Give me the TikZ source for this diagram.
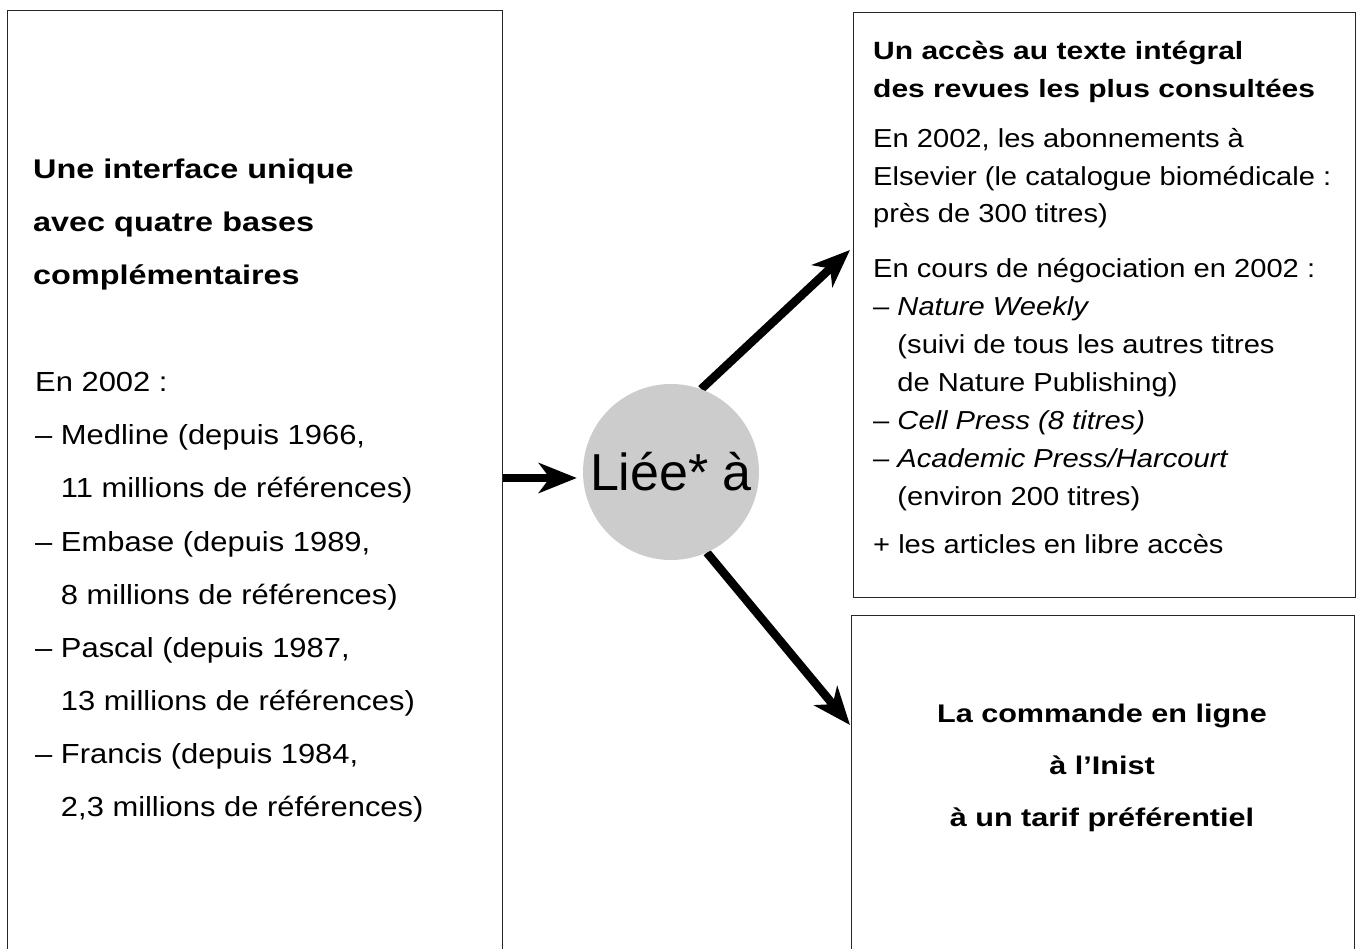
\documentclass[tikz,border=0pt]{standalone}
\usepackage{fontspec}
\newfontfamily\bodyfont{Liberation Sans}[FakeStretch=1.12]
\newfontfamily\headfont{Liberation Sans}[FakeStretch=1.2]
\newfontfamily\circfont{Liberation Sans}
\usetikzlibrary{arrows.meta}
\usetikzlibrary{calc}
\usetikzlibrary{backgrounds}
\definecolor{circgray}{RGB}{204,204,204}
\newcommand\dashind{\hphantom{– }}

\begin{document}
\begin{tikzpicture}[x=1pt, y=-1pt,
  boxst/.style={draw=black!85, line width=1.2pt, inner sep=0pt, anchor=north west},
  arr/.style={line width=8.5pt, -{Stealth[length=38pt, width=30pt, inset=11pt]}},
  lhead/.style={anchor=base west, inner sep=0pt, font=\headfont\bfseries\fontsize{27}{30}\selectfont},
  lbody/.style={anchor=base west, inner sep=0pt, font=\bodyfont\fontsize{27.6}{30}\selectfont},
  rhead/.style={anchor=base west, inner sep=0pt, font=\headfont\bfseries\fontsize{25}{28}\selectfont},
  rbody/.style={anchor=base west, inner sep=0pt, font=\bodyfont\fontsize{26}{28}\selectfont},
  chead/.style={anchor=base, inner sep=0pt, font=\headfont\bfseries\fontsize{25.5}{28}\selectfont}]
  \useasboundingbox (0,0) rectangle (1361,949);
  \clip (0,0) rectangle (1361,949);

  % the three frames
  \node[boxst, minimum width=495pt, minimum height=1000pt] (lbox) at (7,10) {};
  \node[boxst, minimum width=502pt, minimum height=585pt] (tbox) at (853,12) {};
  \node[boxst, minimum width=503pt, minimum height=400pt] (bbox) at (851,615) {};

  % left frame
  \foreach \txt [count=\i from 0] in {Une interface unique, avec quatre bases, complémentaires}
    \node[lhead] (lh\i) at (33, 179+53*\i) {\txt};
  \foreach \txt [count=\i from 0] in {{En 2002 :}, {– Medline (depuis 1966,},
      {\dashind 11 millions de références)}, {– Embase (depuis 1989,},
      {\dashind 8 millions de références)}, {– Pascal (depuis 1987,},
      {\dashind 13 millions de références)}, {– Francis (depuis 1984,},
      {\dashind 2,3 millions de références)}}
    \node[lbody] (lb\i) at (35, 392+53*\i) {\txt};

  % upper right frame
  \foreach \txt [count=\i from 0] in {Un accès au texte intégral, des revues les plus consultées}
    \node[rhead] (th\i) at (873, 60+38*\i) {\txt};
  \foreach \txt [count=\i from 0] in {{En 2002, les abonnements à},
      {Elsevier (le catalogue biomédicale :}, {près de 300 titres)}}
    \node[rbody] (ta\i) at (873, 148+37.5*\i) {\txt};
  \foreach \txt [count=\i from 0] in {{En cours de négociation en 2002 :},
      {– \textit{Nature Weekly}}, {\dashind(suivi de tous les autres titres},
      {\dashind de Nature Publishing)}, {– \textit{Cell Press (8 titres)}},
      {– \textit{Academic Press/Harcourt}}, {\dashind(environ 200 titres)}}
    \node[rbody] (tb\i) at (873, 278+38*\i) {\txt};
  \node[rbody] (tc) at (873, 554) {+ les articles en libre accès};

  % lower right frame
  \foreach \txt [count=\i from 0] in {La commande en ligne, à l’Inist, à un tarif préférentiel}
    \node[chead] (bh\i) at (1102, 722+52*\i) {\txt};

  % centre
  \node[circle, fill=circgray, minimum size=176pt, inner sep=0pt,
        font=\circfont\fontsize{52}{60}\selectfont] (lie) at (671,472) {Liée* à};

  \coordinate (up) at (850,250);
  \coordinate (dn) at (850,725);
  \begin{scope}[on background layer]
    \draw[arr] ([yshift=-6pt]lie.west -| lbox.east) -- ([xshift=-6pt, yshift=-6pt]lie.west);
    \draw[arr] (lie.70) -- (up);
    \draw[arr] (lie.-66) -- (dn);
  \end{scope}
\end{tikzpicture}
\end{document}
